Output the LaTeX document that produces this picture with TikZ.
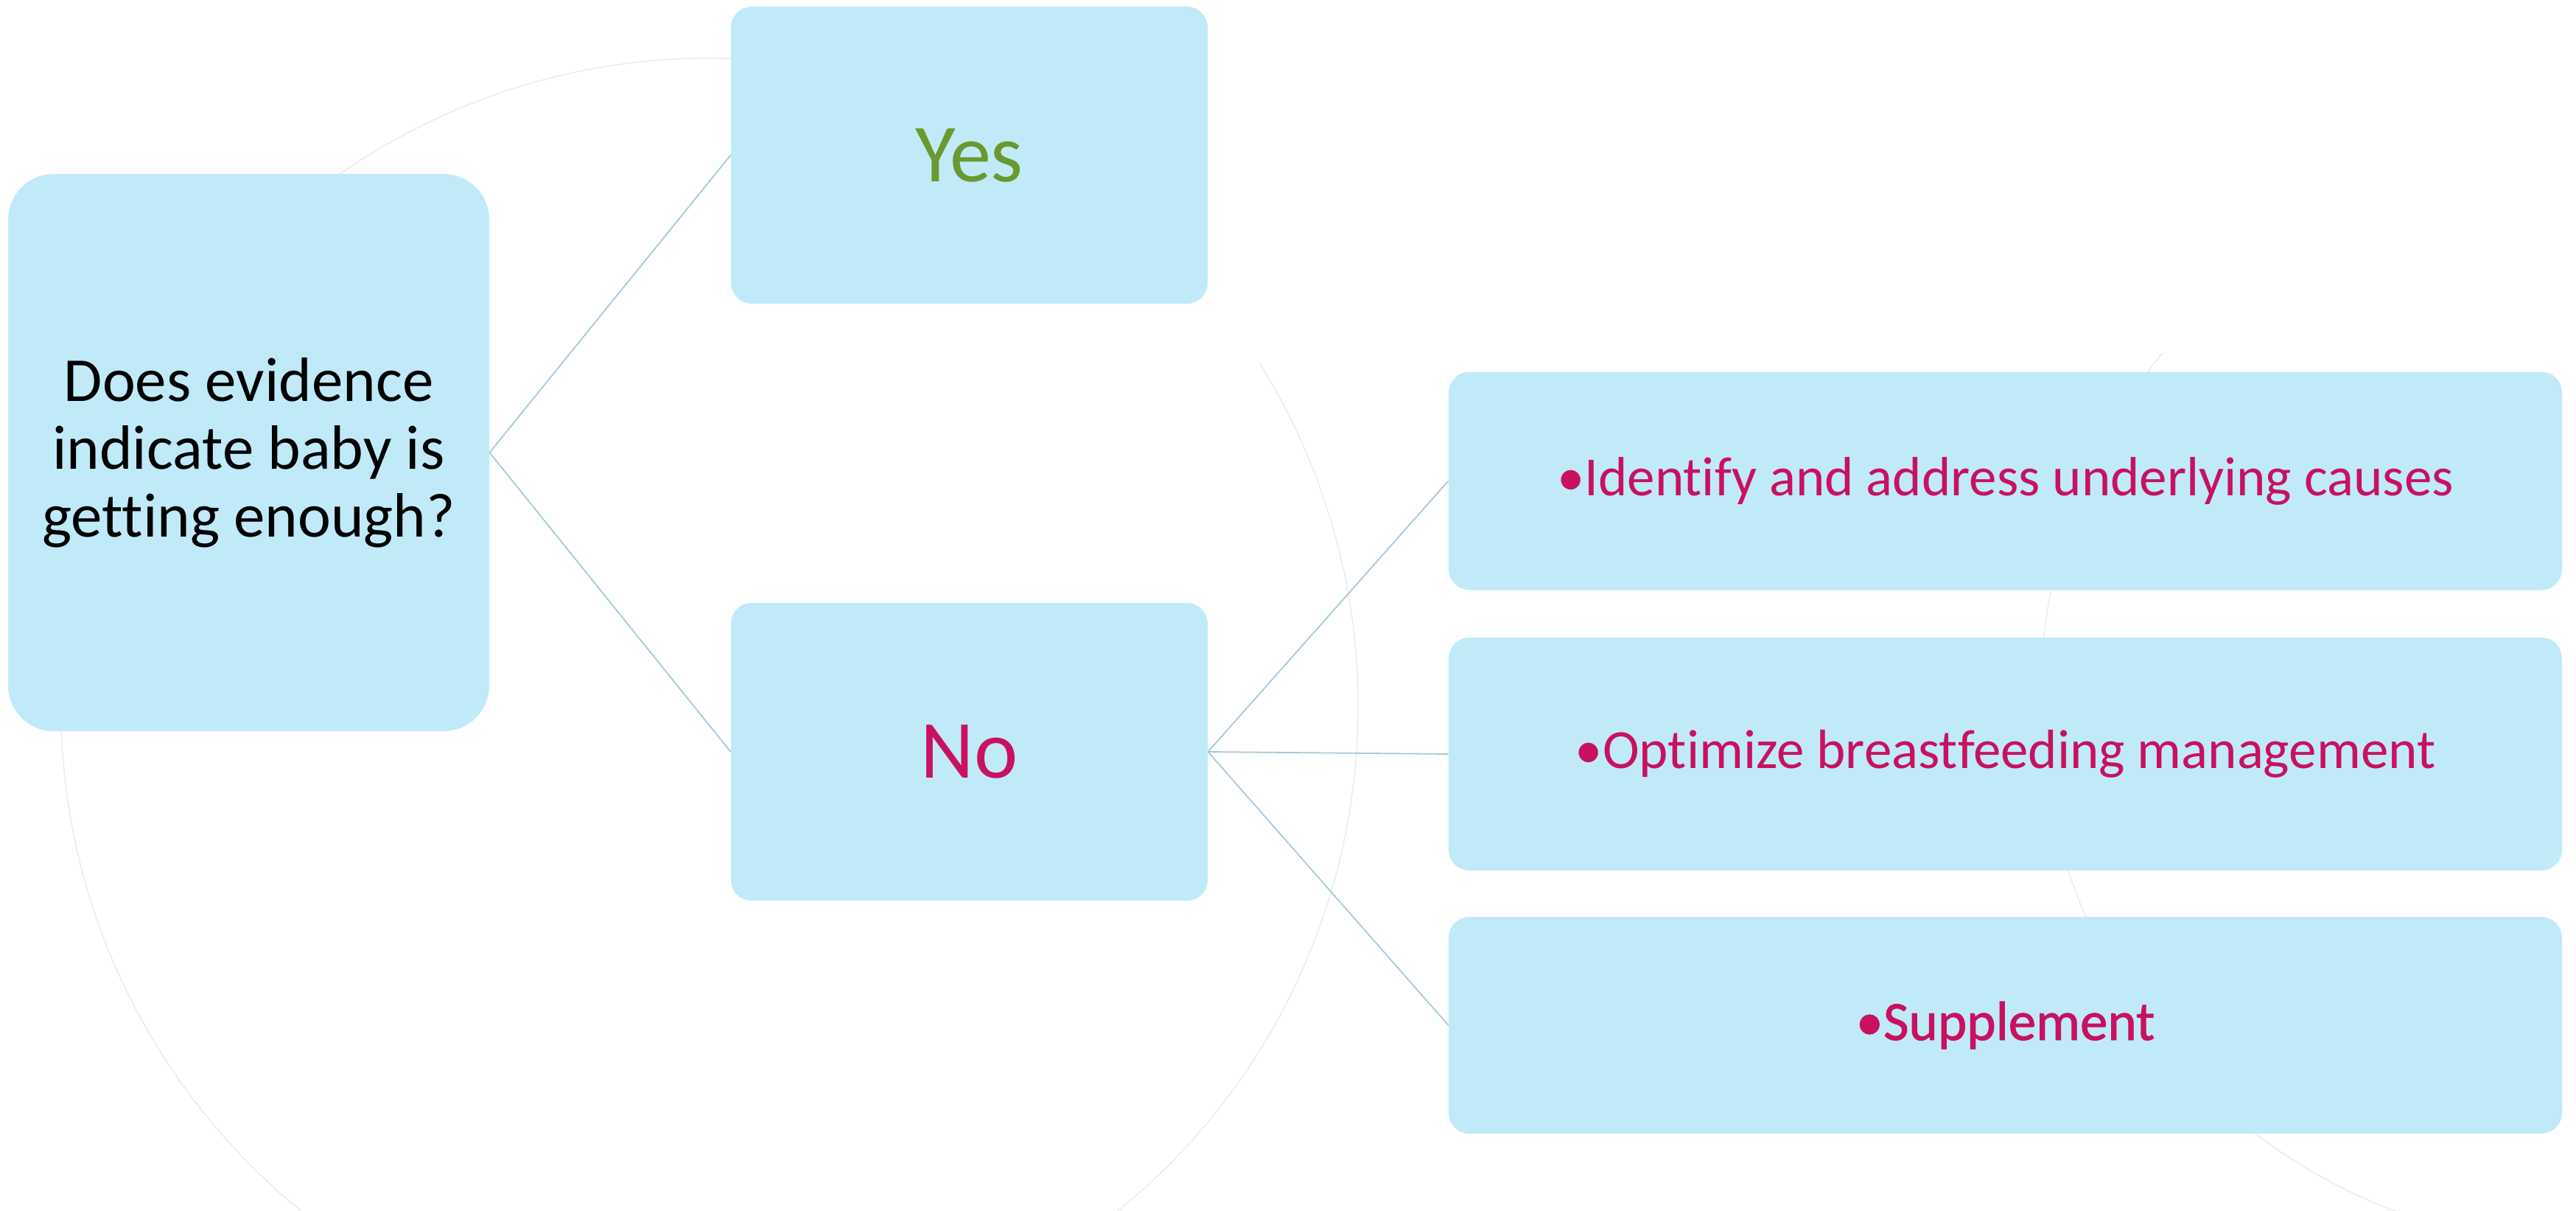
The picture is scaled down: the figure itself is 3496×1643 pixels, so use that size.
\documentclass[tikz,border=0pt]{standalone}
\usepackage{fontspec}
\setmainfont[Ligatures=NoCommon]{Carlito}
\newfontfamily\semibold[FakeBold=1.2,Ligatures=NoCommon]{Carlito}
\definecolor{boxfill}{HTML}{C1EAF9}
\definecolor{linkc}{HTML}{A6CAD8}
\definecolor{yesgreen}{HTML}{6A992F}
\definecolor{nomag}{HTML}{C8115F}
\definecolor{faintc}{HTML}{EAEAEA}
\begin{document}
\begin{tikzpicture}[x=0.5pt,y=-0.5pt,
  box/.style={fill=boxfill, draw=none, rounded corners=14pt, inner sep=0pt, align=center},
  link/.style={draw=linkc, line width=0.9pt},
  faint/.style={draw=faintc, line width=0.7pt}]
\useasboundingbox (0,0) rectangle (3496,1643);
\begin{scope}
  \clip (0,0) rectangle (3496,1643);
  \begin{scope}[shift={(963,959)}, x=1pt, y=1pt]
    \draw[faint] (32:440pt) arc[start angle=32, end angle=-320, radius=440pt];
  \end{scope}
  \begin{scope}[shift={(3513,947)}, x=1pt, y=1pt]
    \draw[faint] (141:372pt) arc[start angle=141, end angle=255, radius=372pt];
  \end{scope}
\end{scope}
\node[box, rounded corners=31pt, minimum width=326.5pt, minimum height=378pt,
  font=\fontsize{42.5}{46}\selectfont] (q) at (337.5,614)
  {Does evidence\\indicate baby is\\getting enough?};
\node[box, minimum width=323.5pt, minimum height=201.5pt, text=yesgreen,
  font=\fontsize{56}{64}\selectfont] (yes) at (1315.5,210.5) {Yes};
\node[box, minimum width=323.5pt, minimum height=202pt, text=nomag,
  font=\fontsize{56}{64}\selectfont] (no) at (1315.5,1020) {No};
\node[box, minimum width=755.5pt, minimum height=148pt, text=nomag,
  font=\fontsize{37.5}{42}\selectfont] (b1) at (2721.5,652.5) {•Identify and address underlying causes};
\node[box, minimum width=755.5pt, minimum height=158pt, text=nomag,
  font=\fontsize{37.5}{42}\selectfont] (b2) at (2721.5,1023) {•Optimize breastfeeding management};
\node[box, minimum width=755.5pt, minimum height=147pt, text=nomag,
  font=\fontsize{37.5}{42}\semibold] (b3) at (2721.5,1391) {•Supplement};
\draw[link] (q.east) -- (yes.west);
\draw[link] (q.east) -- (no.west);
\draw[link] (no.east) -- (b1.west);
\draw[link] (no.east) -- (b2.west);
\draw[link] (no.east) -- (b3.west);
\end{tikzpicture}
\end{document}
